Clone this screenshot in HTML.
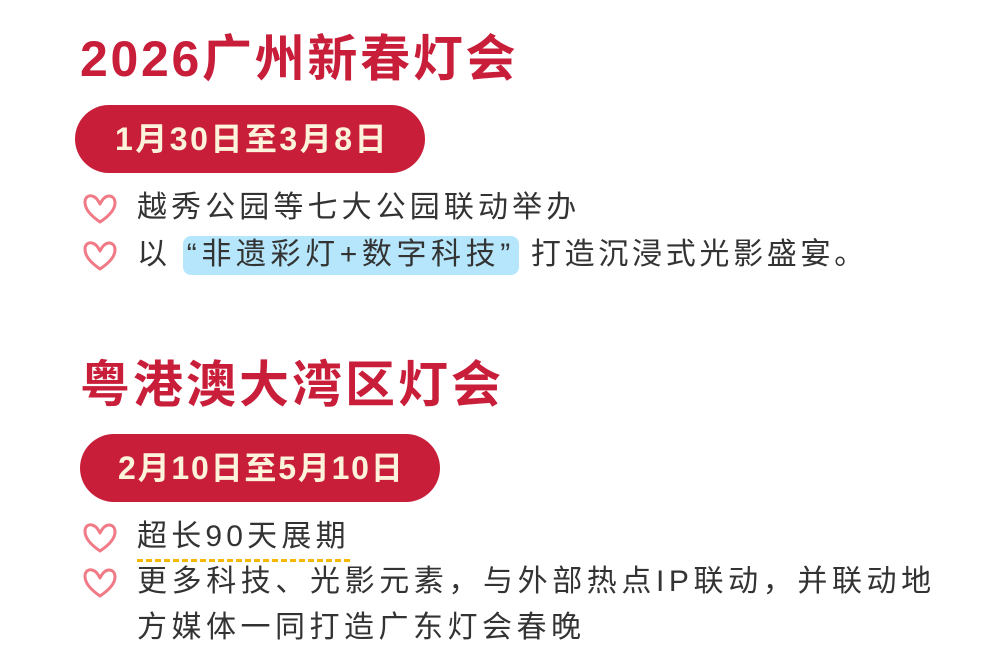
<!DOCTYPE html>
<html><head><meta charset="utf-8"><style>
body{margin:0;width:990px;height:672px;background:#fff;position:relative;overflow:hidden;font-family:"Liberation Sans","Noto Sans CJK SC",sans-serif}
.t{position:absolute;color:#c81e3a;font-weight:bold;font-size:50px;line-height:1;white-space:nowrap}
.pill{position:absolute;background:#c81e3a;border-radius:34px;height:68px;color:#fdf3dc;font-weight:bold;font-size:32px;line-height:68px;box-sizing:border-box;white-space:nowrap}
.l{position:absolute;left:137px;font-size:30px;color:#333;line-height:1;white-space:nowrap}
.h{position:absolute;left:82px;width:36px;height:32px}
.hl{background:#b5e6fb;border-radius:8px;padding:2px 4px 4px;letter-spacing:4.6px}
.u{border-bottom:3px dashed #f5b800;padding-bottom:6px}
</style></head><body>
<svg width="0" height="0" style="position:absolute"><defs><symbol id="hr" viewBox="0 0 36 32"><path d="M18 29 C8 22 3 16 3 9 C3 4 7 2 10 3 C14 4 16 7 18 11 C20 7 23 3 27 3 C31 3 33 6 33 10 C33 17 27 23 18 29Z" fill="none" stroke="#f07a86" stroke-width="3" stroke-linejoin="round"/></symbol></defs></svg>

<div class="t" style="left:80px;top:34px;letter-spacing:2.7px">2026广州新春灯会</div>
<div class="pill" style="left:75px;top:105px;width:350px;padding-left:40px;letter-spacing:2.5px">1月30日至3月8日</div>
<svg class="h" style="top:193px"><use href="#hr"/></svg>
<div class="l" style="top:193px;letter-spacing:4.1px">越秀公园等七大公园联动举办</div>
<svg class="h" style="top:240px"><use href="#hr"/></svg>
<div class="l" style="top:240px;letter-spacing:3.7px">以 <span class="hl">“非遗彩灯+数字科技”</span> 打造沉浸式光影盛宴。</div>

<div class="t" style="left:80px;top:360px;letter-spacing:3px">粤港澳大湾区灯会</div>
<div class="pill" style="left:80px;top:434px;width:360px;padding-left:38px;letter-spacing:1.8px">2月10日至5月10日</div>
<svg class="h" style="top:522px"><use href="#hr"/></svg>
<div class="l" style="top:522px;letter-spacing:4.2px"><span class="u">超长90天展期</span></div>
<svg class="h" style="top:567px"><use href="#hr"/></svg>
<div class="l" style="top:567px;letter-spacing:4.6px">更多科技、光影元素，与外部热点IP联动，并联动地</div>
<div class="l" style="top:613px;letter-spacing:4.5px">方媒体一同打造广东灯会春晚</div>
</body></html>
